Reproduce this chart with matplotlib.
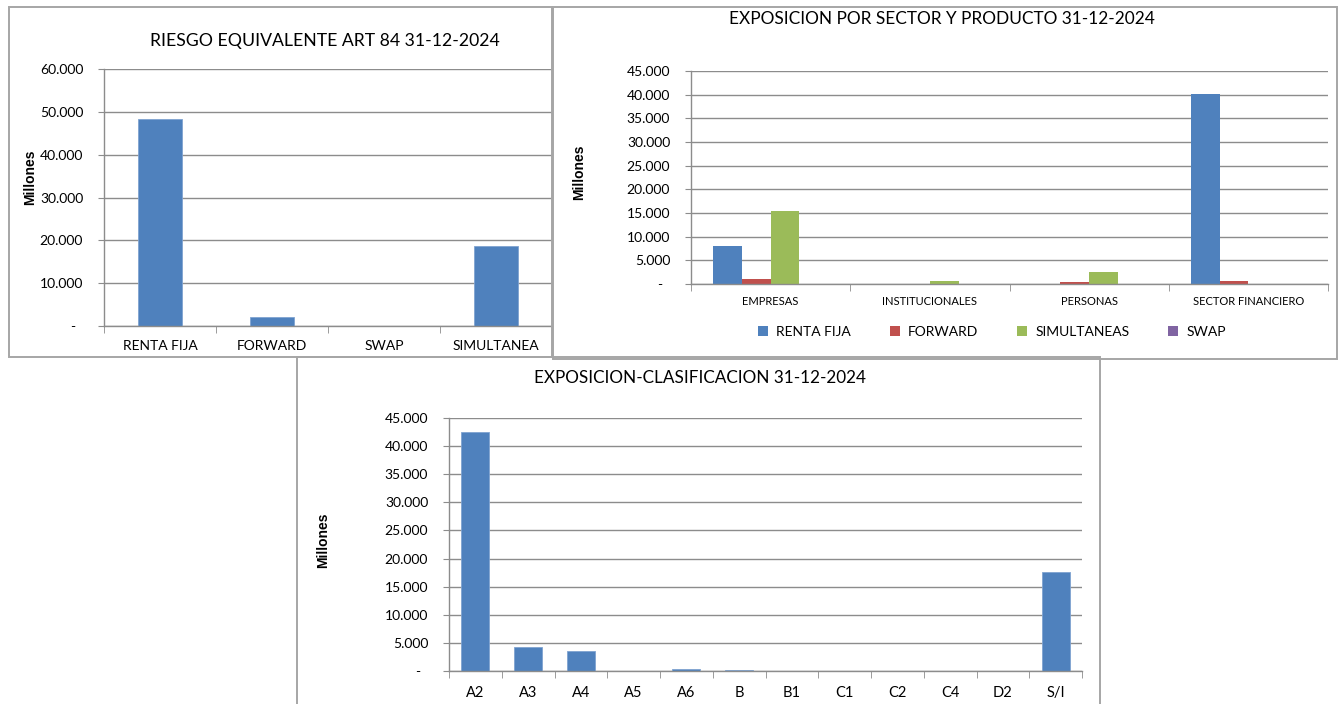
import numpy as np
import matplotlib
matplotlib.use("Agg")
import matplotlib.pyplot as plt
from matplotlib.patches import Rectangle
from matplotlib.ticker import FuncFormatter, FixedLocator

# —— datos (millones)
riesgo_cats = ['RENTA FIJA', 'FORWARD', 'SWAP', 'SIMULTANEA']
riesgo_vals = [48300, 2150, 0, 18700]

sector_cats = ['EMPRESAS', 'INSTITUCIONALES', 'PERSONAS', 'SECTOR FINANCIERO']
renta_fija  = [8000, 0, 0, 40200]
forward     = [1100, 0, 450, 650]
simultaneas = [15450, 650, 2600, 0]
swap        = [0, 0, 0, 0]
productos   = ['RENTA FIJA', 'FORWARD', 'SIMULTANEAS', 'SWAP']

clasif_cats = ['A2', 'A3', 'A4', 'A5', 'A6', 'B', 'B1', 'C1', 'C2', 'C4', 'D2', 'S/I']
clasif_vals = [42500, 4250, 3550, 0, 400, 250, 0, 0, 0, 0, 0, 17600]

BLUE, RED, GREEN, PURPLE = '#4f81bd', '#c0504d', '#9bbb59', '#8064a2'
GRID = '#8c8c8c'
FONT = 'Lato'

W, H = 1341, 704
fig = plt.figure(figsize=(W / 100, H / 100), dpi=100)
fig.patch.set_facecolor('white')


def px_axes(l, t, r, b):
    return fig.add_axes([l / W, 1 - b / H, (r - l) / W, (b - t) / H])


def fmt(v, pos):
    if abs(v) < 1e-9:
        return '-  '
    return f'{v:,.0f}'.replace(',', '.')


def style(ax, ncat, ymax, step, xfs):
    ax.set_xlim(-0.5, ncat - 0.5)
    ax.set_ylim(0, ymax)
    ax.set_yticks(np.arange(0, ymax + 1, step))
    ax.yaxis.set_major_formatter(FuncFormatter(fmt))
    ax.yaxis.grid(True, color=GRID, lw=1.0)
    ax.set_axisbelow(True)
    for s in ['top', 'right']:
        ax.spines[s].set_visible(False)
    for s in ['left', 'bottom']:
        ax.spines[s].set_color(GRID)
        ax.spines[s].set_linewidth(1.0)
    ax.tick_params(axis='y', length=4, direction='out', color=GRID, pad=11,
                   labelsize=10)
    ax.xaxis.set_minor_locator(FixedLocator(np.arange(-0.5, ncat, 1.0)))
    ax.tick_params(axis='x', which='minor', length=5, color=GRID)
    ax.tick_params(axis='x', which='major', length=0, pad=10, labelsize=xfs)
    for lab in ax.get_yticklabels():
        lab.set_family(FONT)


def frame(l, t, r, b):
    fig.add_artist(Rectangle((l / W, 1 - b / H), (r - l) / W, (b - t) / H,
                             transform=fig.transFigure, fill=False,
                             edgecolor='#a6a6a6', lw=1.4))


def ylabel(x, y):
    fig.text(x / W, 1 - y / H, 'Millones', rotation=90, ha='center',
             va='center', fontsize=10, fontweight='bold',
             family='Liberation Sans')


# —— marcos
frame(9, 7, 552, 357)
frame(553, 7, 1337, 359)

# —— grafico 1
ax1 = px_axes(104, 69, 552, 326)
x1 = np.arange(len(riesgo_cats))
ax1.bar(x1, riesgo_vals, width=0.4, color=BLUE, edgecolor='#7fa3d1', lw=0.6)
style(ax1, len(riesgo_cats), 60000, 10000, 10)
ax1.set_xticks(x1)
ax1.set_xticklabels(riesgo_cats, family=FONT)
fig.text(325 / W, 1 - 41 / H, 'RIESGO EQUIVALENTE ART 84 31-12-2024',
         ha='center', va='center', fontsize=12.7, family=FONT)
ylabel(30, 177)

# —— grafico 2
ax2 = px_axes(691, 71, 1328, 284)
x2 = np.arange(len(sector_cats))
bw = 0.18
series = [renta_fija, forward, simultaneas, swap]
colors = [BLUE, RED, GREEN, PURPLE]
handles = []
for k, (vals, c, name) in enumerate(zip(series, colors, productos)):
    h = ax2.bar(x2 + (k - 1.5) * bw, vals, width=bw, color=c, label=name)
    handles.append(h)
style(ax2, len(sector_cats), 45000, 5000, 8)
ax2.set_xticks(x2)
ax2.set_xticklabels(sector_cats, family=FONT)
ax2.tick_params(axis='x', which='major', pad=9)
fig.text(942 / W, 1 - 19 / H, 'EXPOSICION POR SECTOR Y PRODUCTO 31-12-2024',
         ha='center', va='center', fontsize=12.4, family=FONT)
ylabel(579, 172)
fig.legend(handles=handles, labels=productos, loc='center',
           bbox_to_anchor=(992 / W, 1 - 332 / H), ncol=4, frameon=False,
           prop={'family': FONT, 'size': 10}, handlelength=0.7,
           handleheight=0.7, handletextpad=0.6, columnspacing=2.8)

# —— grafico 3
frame(297, 357, 1100, 712)
ax3 = px_axes(449, 418, 1082, 671)
x3 = np.arange(len(clasif_cats))
ax3.bar(x3, clasif_vals, width=0.53, color=BLUE, edgecolor='#7fa3d1', lw=0.6)
style(ax3, len(clasif_cats), 45000, 5000, 10.5)
ax3.set_xticks(x3)
ax3.set_xticklabels(clasif_cats, family=FONT)
ax3.tick_params(axis='x', which='major', pad=11)
fig.text(700 / W, 1 - 378 / H, 'EXPOSICION-CLASIFICACION 31-12-2024',
         ha='center', va='center', fontsize=12.3, family=FONT)
ylabel(323, 540)

fig.savefig('out.png', dpi=100, facecolor='white')
